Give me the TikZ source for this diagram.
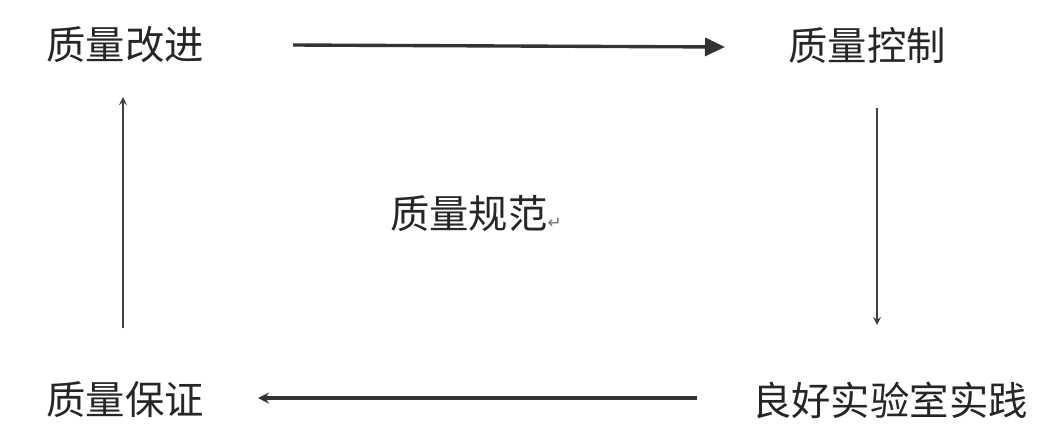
\documentclass[tikz,border=0pt]{standalone}
\usepackage{fontspec}
\newfontfamily\cjk{Noto Sans CJK SC}
\newfontfamily\symb{DejaVu Sans}
\usetikzlibrary{arrows,arrows.meta,positioning,calc}

\begin{document}
\begin{tikzpicture}[
x=0.025cm, y=-0.025cm,
font=\cjk\fontsize{28}{34}\selectfont,
phase/.style={text=black!85, inner sep=0pt},
flow/.style={draw=black!80, line width=2.4pt, -stealth},
bigflow/.style={draw=black!80, line width=2.4pt, -{Triangle[length=5mm,width=4.5mm]}},
thinflow/.style={draw=black!75, line width=1.5pt, ->, >=stealth}
]
    % frame
    \useasboundingbox (0,0) rectangle (1064,437);

    % the four phases and the centre text
    \node[phase] (improve) at (125,45) {质量改进};
    \node[phase] (control) at (867,45) {质量控制};
    \node[phase] (assure)  at (125,400) {质量保证};
    \node[phase] (glp)     at (890,400) {良好实验室实践};
    \node[phase] (spec)    at (476,214) {质量规范{\symb\fontsize{12}{12}\selectfont\color{black!55}↵}};

    % cycle
    \draw[bigflow] ($(improve.center)+(168,0)$) -- ($(control.center)+(-142,2)$);
    \draw[thinflow] ($(control.center)+(10,63)$) -- ($(glp.center)+(-13,-75)$);
    \draw[flow] ($(glp.center)+(-193,-2)$) -- ($(assure.center)+(133,-2)$);
    \draw[thinflow] ($(assure.center)+(-2,-72)$) -- ($(improve.center)+(-2,52)$);

\end{tikzpicture}
\end{document}
